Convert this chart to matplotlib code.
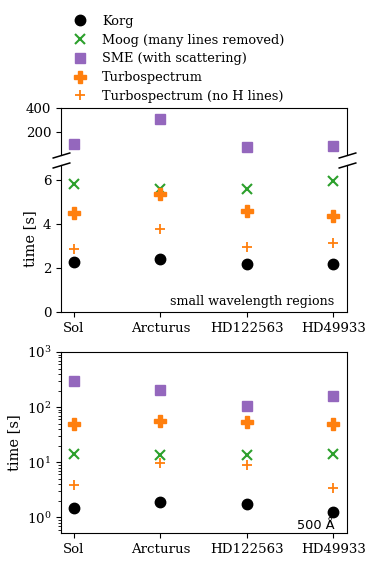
import numpy as np
import matplotlib
matplotlib.use('Agg')
import matplotlib.pyplot as plt

plt.rcParams['font.family'] = 'DejaVu Serif'
plt.rcParams['font.size'] = 9.6

stars = ['Sol', 'Arcturus', 'HD122563', 'HD49933']

# small wavelength regions [s]
korg_small = [2.26, 2.42, 2.21, 2.18]
moog_small = [5.85, 5.59, 5.59, 5.95]
sme_small = [100, 306, 75, 86]
turbo_small = [4.49, 5.39, 4.60, 4.36]
turbo_noH_small = [2.85, 3.77, 2.97, 3.15]

# 500 Angstrom [s]
korg_500 = [1.50, 1.94, 1.77, 1.27]
moog_500 = [14.0, 13.8, 13.8, 14.4]
sme_500 = [301, 205, 103, 160]
turbo_500 = [48.6, 55, 53.5, 48.6]
turbo_noH_500 = [3.93, 9.5, 9.1, 3.47]

labels = ['Korg', 'Moog (many lines removed)', 'SME (with scattering)',
          'Turbospectrum', 'Turbospectrum (no H lines)']
styles = [dict(marker='o', color='k', ms=7.5),
          dict(marker='x', color='C2', ms=7, mew=1.5),
          dict(marker='s', color='C4', ms=7.2),
          dict(marker='P', color='C1', ms=8),
          dict(marker='+', color='C1', ms=7, mew=1.3)]

fig = plt.figure(figsize=(3.74, 5.65), dpi=100)
ax_top = fig.add_axes([0.1631, 0.7257, 0.7647, 0.0832])
ax_mid = fig.add_axes([0.1631, 0.4478, 0.7647, 0.2602])
ax_bot = fig.add_axes([0.1631, 0.0566, 0.7647, 0.3204])

x = np.arange(len(stars))
small = [korg_small, moog_small, sme_small, turbo_small, turbo_noH_small]
big = [korg_500, moog_500, sme_500, turbo_500, turbo_noH_500]

handles = []
for vals, st, lab in zip(small, styles, labels):
    h, = ax_mid.plot(x, vals, ls='none', label=lab, **st)
    handles.append(h)
# only SME reaches the upper (broken) panel
ax_top.plot(x, sme_small, ls='none', **styles[2])
for vals, st in zip(big, styles):
    ax_bot.plot(x, vals, ls='none', **st)

for ax in (ax_top, ax_mid, ax_bot):
    ax.set_xlim(-0.15, 3.16)
    ax.set_xticks(x)

ax_top.set_ylim(10, 400)
ax_top.set_yticks([200, 400])
ax_top.spines['bottom'].set_visible(False)
ax_top.tick_params(axis='x', bottom=False, labelbottom=False)

ax_mid.set_ylim(0, 6.7)
ax_mid.set_yticks([0, 2, 4, 6])
ax_mid.spines['top'].set_visible(False)
ax_mid.set_xticklabels(stars)
ax_mid.set_ylabel('time [s]', fontsize=10.5)
ax_mid.text(0.955, 0.025, 'small wavelength regions', transform=ax_mid.transAxes,
            ha='right', va='bottom', fontsize=9.1)

# broken axis marks
d = 0.3
kw = dict(marker=[(-1, -d), (1, d)], markersize=13, linestyle='none',
          color='k', mec='k', mew=1.1, clip_on=False)
ax_top.plot([0, 1], [0, 0], transform=ax_top.transAxes, **kw)
ax_mid.plot([0, 1], [1, 1], transform=ax_mid.transAxes, **kw)

ax_bot.set_yscale('log')
ax_bot.set_ylim(0.52, 1000)
ax_bot.set_xticklabels(stars)
ax_bot.set_ylabel('time [s]', fontsize=10.5)
ax_bot.text(0.955, 0.005, '500 Å', transform=ax_bot.transAxes, ha='right',
            va='bottom', fontsize=9.3, family='DejaVu Sans')

fig.legend(handles=handles, loc='upper left', bbox_to_anchor=(0.155, 0.99),
           frameon=False, handletextpad=0.7, labelspacing=0.45, borderaxespad=0.3,
           fontsize=9.3)

fig.savefig('out.png', dpi=100)
